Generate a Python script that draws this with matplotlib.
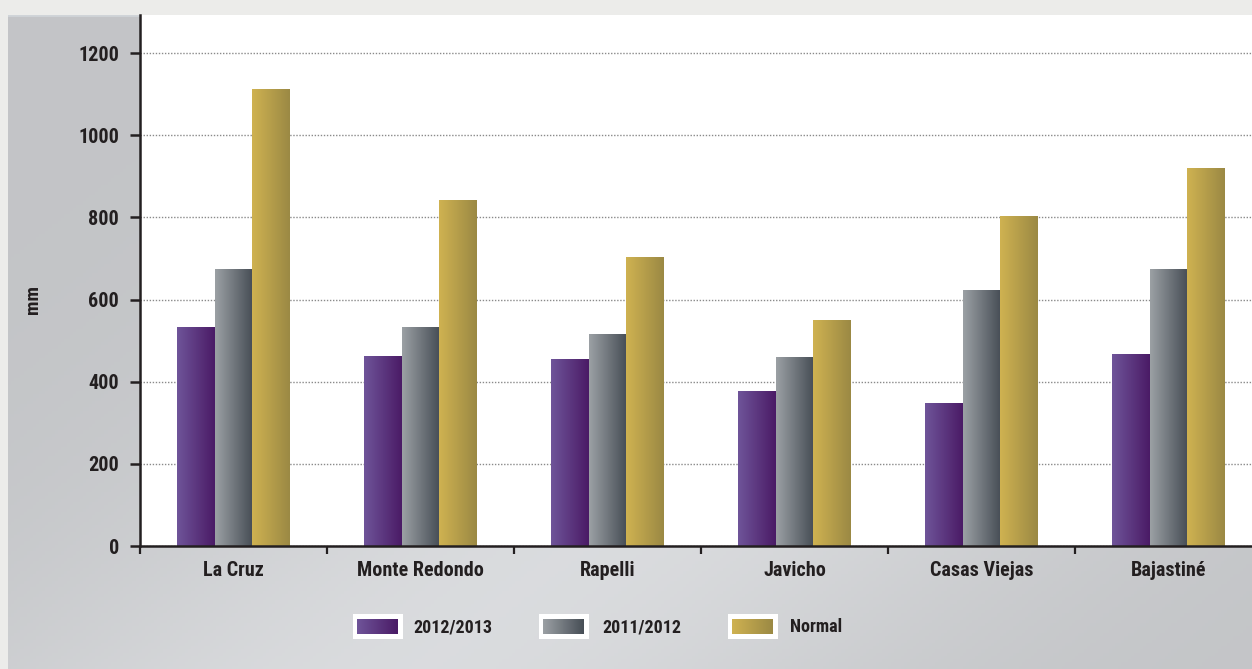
import numpy as np
import matplotlib
matplotlib.use("Agg")
import matplotlib.pyplot as plt
from matplotlib import font_manager
from matplotlib.colors import LinearSegmentedColormap
from matplotlib.patches import Rectangle

# pick a narrow bold face if one is around
installed = {f.name for f in font_manager.fontManager.ttflist}
narrow = [n for n in ['Liberation Sans Narrow', 'DejaVu Sans Condensed', 'Roboto Condensed']
          if n in installed]
plt.rcParams['font.family'] = narrow[:1] + ['DejaVu Sans']
plt.rcParams['font.weight'] = 'bold'
k_fs = 1.0 if narrow else 0.85
fs_axis = 14.5 * k_fs
fs_leg = 13 * k_fs

stations = ["La Cruz", "Monte Redondo", "Rapelli", "Javicho", "Casas Viejas", "Bajastiné"]
season_1213 = [533, 462, 453, 375, 348, 465]
season_1112 = [672, 533, 516, 460, 621, 674]
normal = [1112, 842, 703, 548, 801, 920]
series_names = ["2012/2013", "2011/2012", "Normal"]

TXT = '#231f20'
cmaps = [
    LinearSegmentedColormap.from_list('purple', ['#6f5499', '#4a1b66']),
    LinearSegmentedColormap.from_list('slate', ['#9ba0a4', '#474e56']),
    LinearSegmentedColormap.from_list('gold', ['#cfb251', '#9b8944']),
]

W, H = 1252, 669
fig = plt.figure(figsize=(W / 100, H / 100), dpi=100, facecolor='#ececea')

# grey panel behind the chart, soft diagonal shading
bg = fig.add_axes([8 / W, 0, 1 - 8 / W, (H - 15) / H])
bg.set_axis_off()
gx, gy = np.meshgrid(np.linspace(0, 1, 400), np.linspace(0, 1, 200))
u = 0.6 * gx + 0.4 * gy
light = 0.765 + 0.09 * np.exp(-((u - 0.6) ** 2) / 0.05)
shade = np.dstack([light, light + 0.006, light + 0.016])
bg.imshow(np.clip(shade, 0, 1), extent=[0, 1, 0, 1], aspect='auto', origin='upper')
bg.axhline(1, color='#d0d4d8', lw=2)

ax = fig.add_axes([140 / W, (H - 546) / H, (1262 - 140) / W, (546 - 15) / H])
ax.set_facecolor('white')
ymax = 1292.6
x = np.arange(len(stations))
bw = 0.2
grad = np.linspace(0, 1, 64).reshape(1, -1)
for k, vals in enumerate([season_1213, season_1112, normal]):
    bars = ax.bar(x + (k - 1) * bw, vals, bw, facecolor='none', lw=0, zorder=4)
    for r in bars:
        ax.imshow(grad, cmap=cmaps[k], aspect='auto', zorder=3,
                  extent=[r.get_x(), r.get_x() + r.get_width(), 0, r.get_height()])

ax.set_xlim(-0.5, 5.5)
ax.set_ylim(0, ymax)
ax.set_yticks(np.arange(0, 1201, 200))
ax.yaxis.grid(True, color='#8a8a8a', ls=(0, (1, 1.2)), lw=1.0, zorder=1)
ax.set_axisbelow(True)
for s in ['top', 'right']:
    ax.spines[s].set_visible(False)
for s in ['left', 'bottom']:
    ax.spines[s].set_color('#231f20')
    ax.spines[s].set_linewidth(1.8)
    ax.spines[s].set_zorder(6)

ax.set_xticks(np.arange(-0.5, 6, 1))
ax.set_xticklabels([])
ax.set_xticks(x, minor=True)
ax.set_xticklabels(stations, minor=True, fontsize=fs_axis, color=TXT, fontweight='bold')
ax.tick_params(axis='x', which='major', direction='out', length=6, width=1.6, color=TXT)
ax.tick_params(axis='x', which='minor', length=0, pad=11)
ax.tick_params(axis='y', direction='out', length=7, width=1.8, color=TXT,
               labelsize=fs_axis, labelcolor=TXT, pad=8)
for t in ax.get_yticklabels():
    t.set_fontweight('bold')

fig.text(33 / W, 1 - 299 / H, 'mm', rotation=90, ha='center', va='center',
         fontsize=fs_axis - 0.5, color=TXT, fontweight='bold')

# legend drawn in pixel coordinates
lg = fig.add_axes([0, 0, 1, 1], facecolor='none')
lg.set_axis_off()
for k, (bx, tx) in enumerate([(354, 413), (540, 602), (729, 790)]):
    lg.add_patch(Rectangle((bx - 1, 614), 50, 25, facecolor='white', edgecolor='none', zorder=2))
    lg.imshow(grad, cmap=cmaps[k], aspect='auto', zorder=3,
              extent=[bx + 3, bx + 44, 634, 619])
    lg.text(tx, 627, series_names[k], ha='left', va='center', fontsize=fs_leg,
            color=TXT, fontweight='bold')
lg.set_xlim(0, W)
lg.set_ylim(H, 0)

fig.savefig('out.png', dpi=100, facecolor=fig.get_facecolor())
